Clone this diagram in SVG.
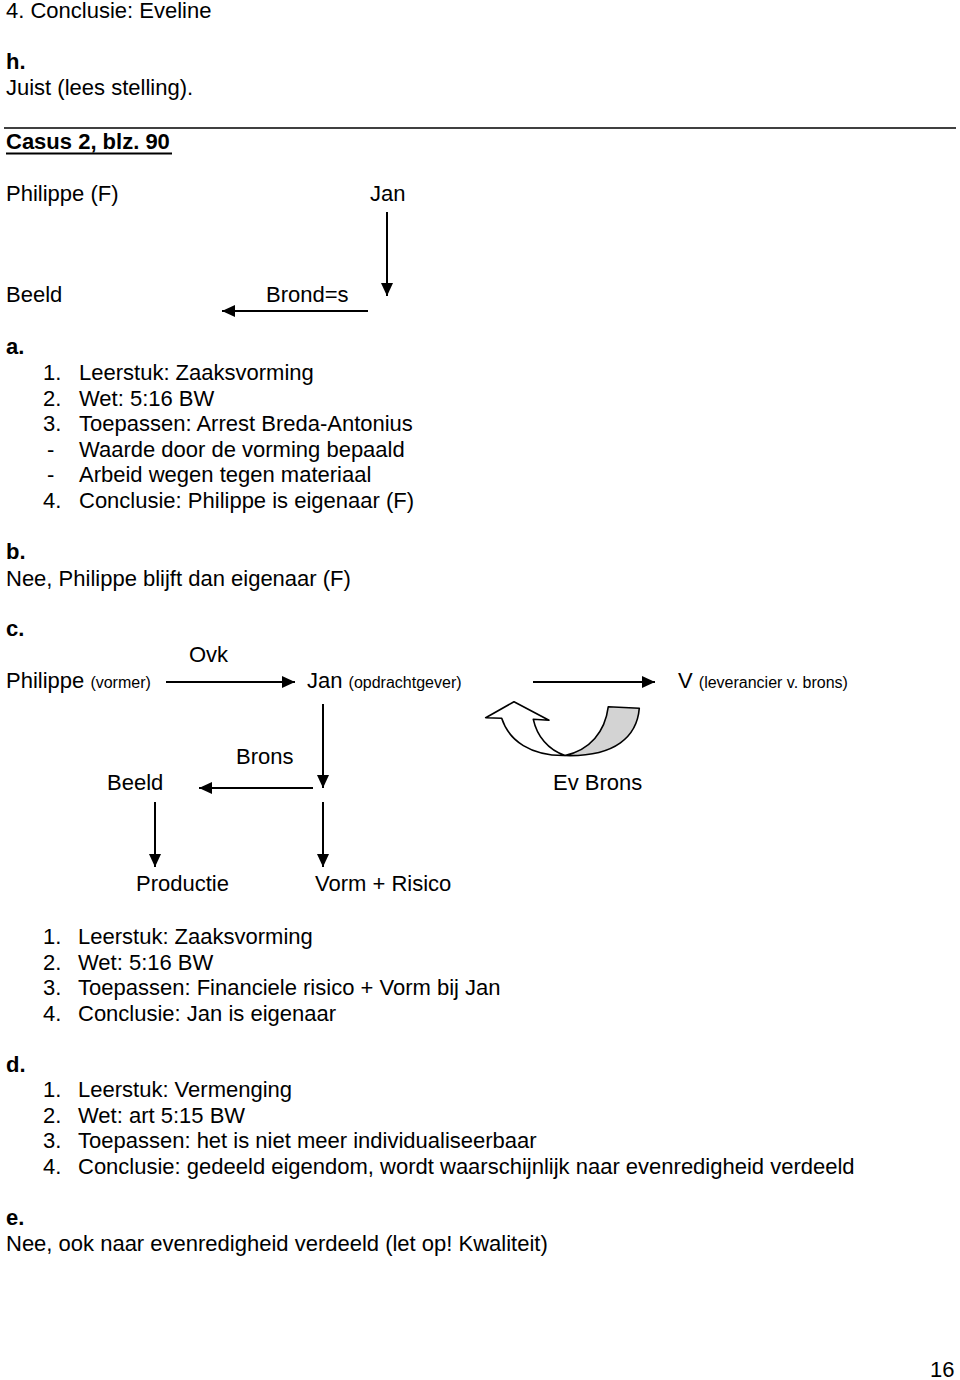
<svg xmlns="http://www.w3.org/2000/svg" width="960" height="1380" viewBox="0 0 960 1380">
<style>
text{font-family:"Liberation Sans",Arial,sans-serif;font-size:22px;fill:#000}
.s{font-size:16px}
.b{font-weight:bold}
.ln{stroke:#000;stroke-width:2;fill:none}
.cv{stroke:#000;stroke-width:1.6;stroke-linejoin:round}
</style>
<defs>
<marker id="ah" markerUnits="userSpaceOnUse" markerWidth="13" markerHeight="12" refX="13" refY="6" orient="auto">
<path d="M0,0 L13,6 L0,12 Z" fill="#000"/>
</marker>
</defs>
<rect width="960" height="1380" fill="#fff"/>

<g id="text-top">
<text x="6" y="18">4. Conclusie: Eveline</text>
<text x="6" y="68.5" class="b">h.</text>
<text x="6" y="95">Juist (lees stelling).</text>
<line x1="4" y1="128" x2="956" y2="128" stroke="#000" stroke-width="1.6"/>
<text x="6" y="149" class="b">Casus 2, blz. 90</text>
<line x1="6" y1="153.5" x2="172" y2="153.5" stroke="#000" stroke-width="1.8"/>
</g>

<g id="node-philippe-f"><text x="6" y="201">Philippe (F)</text></g>
<g id="node-jan-1"><text x="370" y="201">Jan</text></g>
<g id="node-beeld-1"><text x="6" y="302">Beeld</text></g>
<g id="node-brond"><text x="266" y="302">Brond=s</text></g>

<g id="text-a">
<text x="6" y="354" class="b">a.</text>
<text x="43" y="380">1.</text><text x="79" y="380">Leerstuk: Zaaksvorming</text>
<text x="43" y="405.5">2.</text><text x="79" y="405.5">Wet: 5:16 BW</text>
<text x="43" y="431">3.</text><text x="79" y="431">Toepassen: Arrest Breda-Antonius</text>
<text x="47" y="456.5">-</text><text x="79" y="456.5">Waarde door de vorming bepaald</text>
<text x="47" y="482">-</text><text x="79" y="482">Arbeid wegen tegen materiaal</text>
<text x="43" y="507.5">4.</text><text x="79" y="507.5">Conclusie: Philippe is eigenaar (F)</text>
</g>

<g id="text-b">
<text x="6" y="559" class="b">b.</text>
<text x="6" y="585.5">Nee, Philippe blijft dan eigenaar (F)</text>
</g>

<g id="text-c-label"><text x="6" y="636" class="b">c.</text></g>
<g id="label-ovk"><text x="189" y="662">Ovk</text></g>
<g id="node-philippe-vormer"><text x="6" y="688">Philippe <tspan class="s">(vormer)</tspan></text></g>
<g id="node-jan-2"><text x="307" y="688">Jan <tspan class="s">(opdrachtgever)</tspan></text></g>
<g id="node-v"><text x="678" y="688">V <tspan class="s">(leverancier v. brons)</tspan></text></g>
<g id="label-brons"><text x="236" y="764">Brons</text></g>
<g id="node-beeld-2"><text x="107" y="790">Beeld</text></g>
<g id="node-ev-brons"><text x="553" y="790">Ev Brons</text></g>
<g id="node-productie"><text x="136" y="891">Productie</text></g>
<g id="node-vorm-risico"><text x="315" y="891">Vorm + Risico</text></g>

<g id="curved-arrow">
<path class="cv" fill="#d3d3d3" d="M608.3,706.7 L639.3,708.3 C637,736 616,757 565,755.5 C590,750 605,732 608.3,706.7 Z"/>
<path class="cv" fill="#fff" d="M501.7,718.3 C509,741 531,756 565,755.5 C548,750 537,736 533.3,719.3 L549,720.3 L514,701.7 L485.7,717.7 Z"/>
</g>

<g id="connectors">
<line class="ln" x1="387" y1="212" x2="387" y2="296" marker-end="url(#ah)"/>
<line class="ln" x1="368" y1="311" x2="222" y2="311" marker-end="url(#ah)"/>
<line class="ln" x1="166" y1="682" x2="295" y2="682" marker-end="url(#ah)"/>
<line class="ln" x1="533" y1="682" x2="655" y2="682" marker-end="url(#ah)"/>
<line class="ln" x1="323" y1="704" x2="323" y2="788" marker-end="url(#ah)"/>
<line class="ln" x1="313" y1="788" x2="199" y2="788" marker-end="url(#ah)"/>
<line class="ln" x1="155" y1="802" x2="155" y2="867" marker-end="url(#ah)"/>
<line class="ln" x1="323" y1="802" x2="323" y2="867" marker-end="url(#ah)"/>
</g>

<g id="text-c-list">
<text x="43" y="944">1.</text><text x="78" y="944">Leerstuk: Zaaksvorming</text>
<text x="43" y="969.5">2.</text><text x="78" y="969.5">Wet: 5:16 BW</text>
<text x="43" y="995">3.</text><text x="78" y="995">Toepassen: Financiele risico + Vorm bij Jan</text>
<text x="43" y="1020.5">4.</text><text x="78" y="1020.5">Conclusie: Jan is eigenaar</text>
</g>

<g id="text-d">
<text x="6" y="1071.5" class="b">d.</text>
<text x="43" y="1097">1.</text><text x="78" y="1097">Leerstuk: Vermenging</text>
<text x="43" y="1122.5">2.</text><text x="78" y="1122.5">Wet: art 5:15 BW</text>
<text x="43" y="1148">3.</text><text x="78" y="1148">Toepassen: het is niet meer individualiseerbaar</text>
<text x="43" y="1173.5">4.</text><text x="78" y="1173.5">Conclusie: gedeeld eigendom, wordt waarschijnlijk naar evenredigheid verdeeld</text>
</g>

<g id="text-e">
<text x="6" y="1225" class="b">e.</text>
<text x="6" y="1250.5">Nee, ook naar evenredigheid verdeeld (let op! Kwaliteit)</text>
</g>

<g id="page-number"><text x="930" y="1377">16</text></g>
</svg>
